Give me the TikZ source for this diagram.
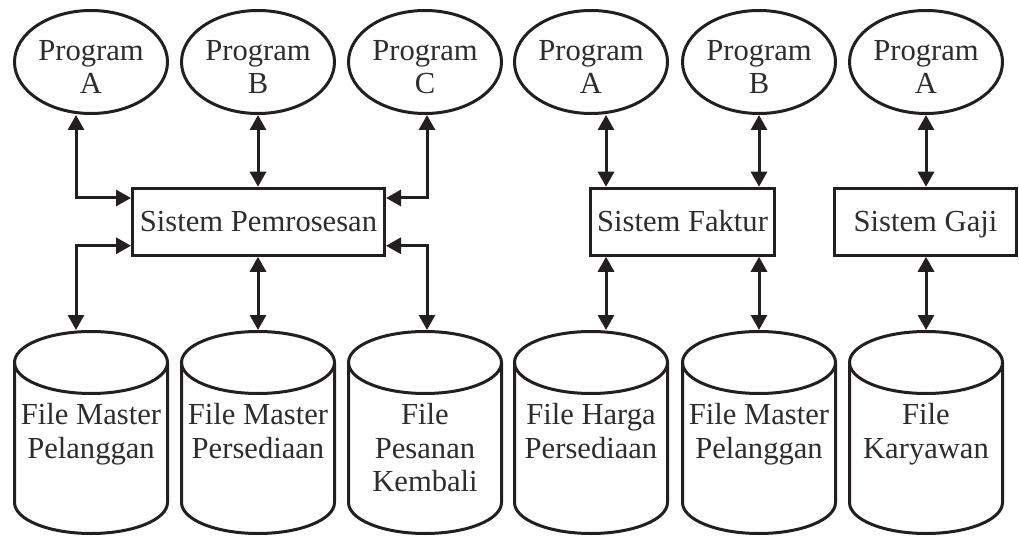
\documentclass[tikz,border=0pt]{standalone}
\usepackage{fontspec}
\setmainfont{Liberation Serif}
\usetikzlibrary{arrows.meta,shapes.geometric}
\definecolor{ink}{RGB}{35,31,32}
\definecolor{txt}{RGB}{45,45,45}
\newcommand{\diagfont}{\fontsize{30.6}{33.5}\selectfont}
\begin{document}
\begin{tikzpicture}[x=1pt,y=-1pt,
  prog/.style={ellipse, draw=ink, line width=3pt, minimum width=153pt,
    minimum height=103pt, inner sep=0pt},
  sysbox/.style={rectangle, draw=ink, line width=3pt, minimum height=67pt,
    inner sep=0pt, text height=20.5pt, text depth=0pt, font=\diagfont, text=txt},
  filecyl/.style={rectangle, minimum width=153pt, minimum height=202pt,
    inner sep=0pt, outer sep=1.5pt},
  cylline/.style={draw=ink, line width=3pt},
  lbl/.style={anchor=north, inner sep=0pt, align=center, font=\diagfont, text=txt},
  link/.style={draw=ink, line width=3pt,
    {Triangle[length=15pt,width=16pt]}-{Triangle[length=15pt,width=16pt]}}]
\useasboundingbox (0,0) rectangle (1019,537);

% programs
\node[prog] (pa)  at (91,62)  {};
\node[prog] (pb)  at (258,62) {};
\node[prog] (pc)  at (425,62) {};
\node[prog] (pa2) at (591,62) {};
\node[prog] (pb2) at (759,62) {};
\node[prog] (pa3) at (926,62) {};
\node[lbl] (tpa)  at (91,40)  {Program\\A};
\node[lbl] (tpb)  at (258,40) {Program\\B};
\node[lbl] (tpc)  at (425,40) {Program\\C};
\node[lbl] (tpa2) at (591,40) {Program\\A};
\node[lbl] (tpb2) at (759,40) {Program\\B};
\node[lbl] (tpa3) at (926,40) {Program\\A};

% systems
\node[sysbox, minimum width=252pt] (sp) at (258.5,221.75) {Sistem Pemrosesan};
\node[sysbox, minimum width=184pt] (sf) at (682.5,221.75) {Sistem Faktur};
\node[sysbox, minimum width=182pt] (sg) at (925.5,221.75) {Sistem Gaji};

% files
\node[filecyl] (c1) at (91,432.5)  {};
\node[filecyl] (c2) at (258,432.5) {};
\node[filecyl] (c3) at (425,432.5) {};
\node[filecyl] (c4) at (591,432.5) {};
\node[filecyl] (c5) at (759,432.5) {};
\node[filecyl] (c6) at (926,432.5) {};
\foreach \c in {c1,c2,c3,c4,c5,c6}{
  \draw[cylline] ([yshift=70pt]\c.center) ellipse [x radius=76.5pt, y radius=31pt];
  \draw[cylline] ([shift={(-76.5pt,70pt)}]\c.center) -- ++(0pt,-140pt)
    arc[start angle=180, end angle=360, x radius=76.5pt, y radius=31pt]
    -- ++(0pt,140pt);
}
\node[lbl] (tc1) at (91,403.3)  {File Master\\Pelanggan};
\node[lbl] (tc2) at (258,403.3) {File Master\\Persediaan};
\node[lbl] (tc3) at (425,403.3) {File\\Pesanan\\Kembali};
\node[lbl] (tc4) at (591,403.3) {File Harga\\Persediaan};
\node[lbl] (tc5) at (759,403.3) {File Master\\Pelanggan};
\node[lbl] (tc6) at (926,403.3) {File\\Karyawan};

% connectors
\draw[link] ([xshift=-15pt]pa.south) |- ([yshift=23.75pt]sp.west);
\draw[link] (pb.south) -- (pb.south |- sp.north);
\draw[link] ([xshift=2pt]pc.south) |- ([yshift=23.75pt]sp.east);
\draw[link] ([yshift=-24pt]sp.west) -| ([xshift=-15pt]c1.north);
\draw[link] (c2.north |- sp.south) -- (c2.north);
\draw[link] ([yshift=-24pt]sp.east) -| ([xshift=2pt]c3.north);

\draw[link] ([xshift=15pt]pa2.south) -- ([xshift=15pt]pa2.south |- sf.north);
\draw[link] (pb2.south) -- (pb2.south |- sf.north);
\draw[link] ([xshift=15pt]c4.north |- sf.south) -- ([xshift=15pt]c4.north);
\draw[link] (c5.north |- sf.south) -- (c5.north);

\draw[link] (pa3.south) -- (pa3.south |- sg.north);
\draw[link] (c6.north |- sg.south) -- (c6.north);
\end{tikzpicture}
\end{document}
